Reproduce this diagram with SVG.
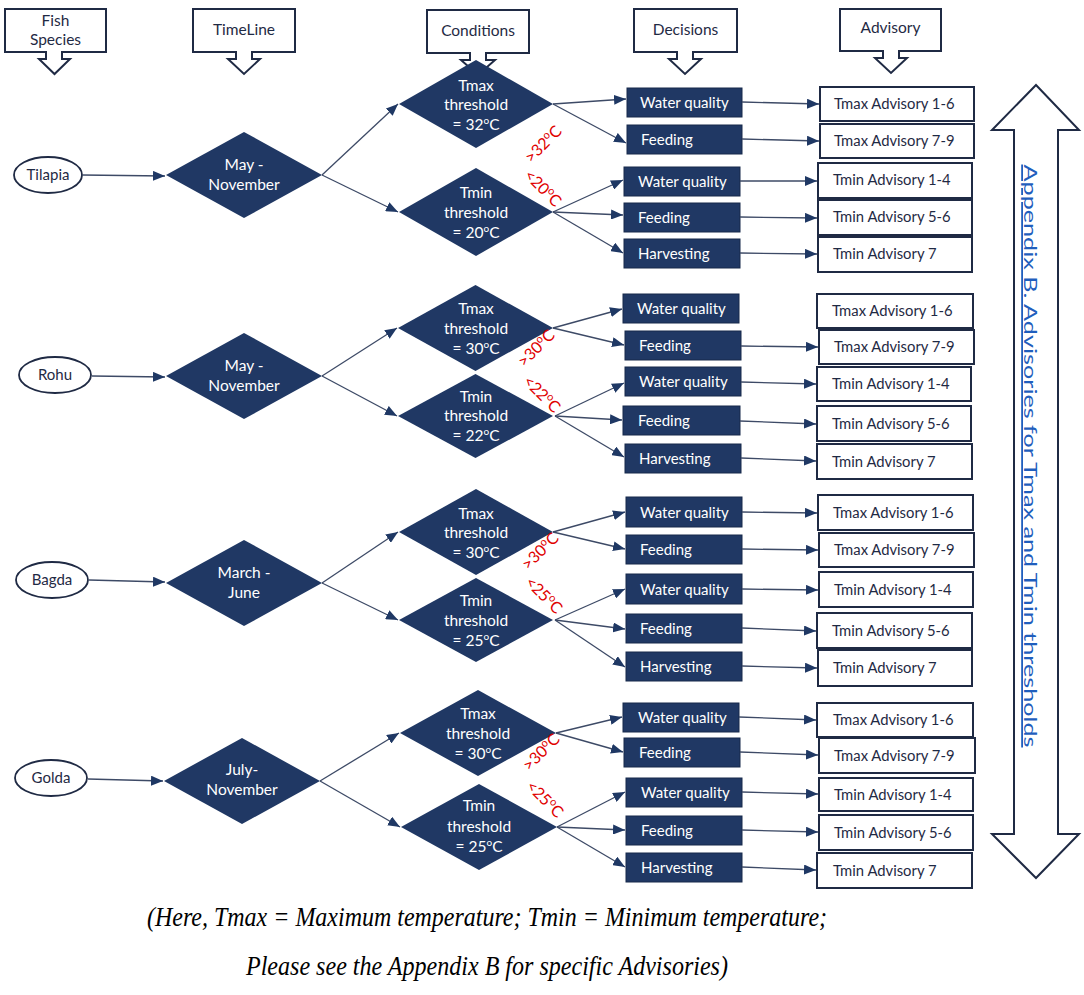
<svg xmlns="http://www.w3.org/2000/svg" width="1084" height="995" viewBox="0 0 1084 995">
<defs>
<marker id="ah" markerUnits="userSpaceOnUse" markerWidth="12" markerHeight="10" refX="12" refY="5" orient="auto">
<path d="M0,0 L12,5 L0,10 z" fill="#1f3864"/>
</marker>
<style>
.hdr{fill:#fff;stroke:#1f2a44;stroke-width:2}
.ht{font-family:Lato,"Liberation Sans",sans-serif;font-size:15.5px;fill:#1f2a44;text-anchor:middle}
.ell{fill:#fff;stroke:#1f2a44;stroke-width:1.8}
.et{font-family:Lato,"Liberation Sans",sans-serif;font-size:15px;fill:#1f2a44;text-anchor:middle}
.dia{fill:#203864}
.dt{font-family:Lato,"Liberation Sans",sans-serif;font-size:15.5px;fill:#fff;text-anchor:middle}
.dec{fill:#203864;stroke:#16284a;stroke-width:1}
.dct{font-family:Lato,"Liberation Sans",sans-serif;font-size:15px;fill:#fff}
.adv{fill:#fff;stroke:#1f2a44;stroke-width:2}
.at{font-family:Lato,"Liberation Sans",sans-serif;font-size:14.8px;fill:#1f2a44}
.red{font-family:Lato,"Liberation Sans",sans-serif;font-size:16px;fill:#e00000;text-anchor:middle}
.con line{stroke:#3d4a66;stroke-width:1.3;marker-end:url(#ah)}
.cap{font-family:"Liberation Serif",serif;font-style:italic;font-size:28px;fill:#000;text-anchor:middle}
</style>
</defs>
<rect width="1084" height="995" fill="#fff"/>

<!-- headers -->
<g id="hdr-fish"><path class="hdr" d="M5,9 H106 V52 H62 V59 H70 L54.5,74 L39,59 H46 V52 H5 Z"/><text class="ht" x="55.5" y="26">Fish</text><text class="ht" x="55.5" y="45">Species</text></g>
<g id="hdr-time"><path class="hdr" d="M193,9 H295 V52 H252 V59 H260 L244,74 L228,59 H236 V52 H193 Z"/><text class="ht" x="244" y="35">TimeLine</text></g>
<g id="hdr-cond"><path class="hdr" d="M427,10 H529 V53 H486 V60 H495 L478,75 L461,60 H470 V53 H427 Z"/><text class="ht" x="478" y="36">Conditions</text></g>
<g id="hdr-dec"><path class="hdr" d="M634,9 H737 V52 H693 V59 H701 L685,74 L669,59 H677 V52 H634 Z"/><text class="ht" x="685.5" y="35">Decisions</text></g>
<g id="hdr-adv"><path class="hdr" d="M840,9 H941 V51 H899 V58 H907 L891,73 L875,58 H883 V51 H840 Z"/><text class="ht" x="890.5" y="33">Advisory</text></g>

<!-- ===== Tilapia ===== -->
<g id="sp-tilapia"><ellipse class="ell" cx="48" cy="175" rx="34" ry="18"/><text class="et" x="48" y="180">Tilapia</text></g>
<g id="tl-tilapia"><path class="dia" d="M166,175 L244,132 L322,175 L244,218 Z"/><text class="dt" x="244" y="170">May -</text><text class="dt" x="244" y="190">November</text></g>
<g id="tmax-tilapia"><path class="dia" d="M399,104 L476,60 L553,104 L476,148 Z"/><text class="dt" x="476" y="91">Tmax</text><text class="dt" x="476" y="110">threshold</text><text class="dt" x="476" y="130">= 32<tspan font-size="10" dy="-6">o</tspan><tspan dy="6">C</tspan></text></g>
<g id="tmin-tilapia"><path class="dia" d="M399,212 L476,168 L553,212 L476,256 Z"/><text class="dt" x="476" y="198">Tmin</text><text class="dt" x="476" y="218">threshold</text><text class="dt" x="476" y="238">= 20<tspan font-size="10" dy="-6">o</tspan><tspan dy="6">C</tspan></text></g>
<g id="lbl-tilapia"><text class="red" transform="translate(547,148) rotate(-45)">&gt;32<tspan font-size="11" dy="-6">o</tspan><tspan dy="6">C</tspan></text><text class="red" transform="translate(539,192) rotate(45)">&lt;20<tspan font-size="11" dy="-6">o</tspan><tspan dy="6">C</tspan></text></g>
<g id="dec-tilapia-1"><rect class="dec" x="627" y="88" width="115" height="29"/><text class="dct" x="640" y="108">Water quality</text></g>
<g id="dec-tilapia-2"><rect class="dec" x="627" y="125" width="115" height="29"/><text class="dct" x="641" y="145">Feeding</text></g>
<g id="dec-tilapia-3"><rect class="dec" x="624" y="167" width="116" height="29"/><text class="dct" x="638" y="187">Water quality</text></g>
<g id="dec-tilapia-4"><rect class="dec" x="624" y="203" width="116" height="29"/><text class="dct" x="638" y="223">Feeding</text></g>
<g id="dec-tilapia-5"><rect class="dec" x="624" y="239" width="116" height="29"/><text class="dct" x="638" y="259">Harvesting</text></g>
<g id="adv-tilapia-1"><rect class="adv" x="820" y="87" width="154" height="34"/><text class="at" x="834" y="109">Tmax Advisory 1-6</text></g>
<g id="adv-tilapia-2"><rect class="adv" x="820" y="124" width="154" height="34"/><text class="at" x="834" y="146">Tmax Advisory 7-9</text></g>
<g id="adv-tilapia-3"><rect class="adv" x="818" y="163" width="154" height="35"/><text class="at" x="833" y="185">Tmin Advisory 1-4</text></g>
<g id="adv-tilapia-4"><rect class="adv" x="818" y="200" width="154" height="35"/><text class="at" x="833" y="222">Tmin Advisory 5-6</text></g>
<g id="adv-tilapia-5"><rect class="adv" x="818" y="237" width="154" height="35"/><text class="at" x="833" y="259">Tmin Advisory 7</text></g>

<!-- ===== Rohu ===== -->
<g id="sp-rohu"><ellipse class="ell" cx="55" cy="375" rx="36" ry="18"/><text class="et" x="55" y="380">Rohu</text></g>
<g id="tl-rohu"><path class="dia" d="M166,376 L244,333 L322,376 L244,419 Z"/><text class="dt" x="244" y="371">May -</text><text class="dt" x="244" y="391">November</text></g>
<g id="tmax-rohu"><path class="dia" d="M398,328 L475.5,285 L553,328 L475.5,371 Z"/><text class="dt" x="476" y="314">Tmax</text><text class="dt" x="476" y="334">threshold</text><text class="dt" x="476" y="354">= 30<tspan font-size="10" dy="-6">o</tspan><tspan dy="6">C</tspan></text></g>
<g id="tmin-rohu"><path class="dia" d="M398,416 L475.5,374 L553,416 L475.5,458 Z"/><text class="dt" x="476" y="402">Tmin</text><text class="dt" x="476" y="421">threshold</text><text class="dt" x="476" y="441">= 22<tspan font-size="10" dy="-6">o</tspan><tspan dy="6">C</tspan></text></g>
<g id="lbl-rohu"><text class="red" transform="translate(540,352) rotate(-45)">&gt;30<tspan font-size="11" dy="-6">o</tspan><tspan dy="6">C</tspan></text><text class="red" transform="translate(538,398) rotate(45)">&lt;22<tspan font-size="11" dy="-6">o</tspan><tspan dy="6">C</tspan></text></g>
<g id="dec-rohu-1"><rect class="dec" x="623" y="294" width="116" height="29"/><text class="dct" x="637" y="314">Water quality</text></g>
<g id="dec-rohu-2"><rect class="dec" x="625" y="331" width="116" height="29"/><text class="dct" x="639" y="351">Feeding</text></g>
<g id="dec-rohu-3"><rect class="dec" x="625" y="367" width="116" height="29"/><text class="dct" x="639" y="387">Water quality</text></g>
<g id="dec-rohu-4"><rect class="dec" x="623" y="406" width="117" height="29"/><text class="dct" x="638" y="426">Feeding</text></g>
<g id="dec-rohu-5"><rect class="dec" x="625" y="444" width="116" height="29"/><text class="dct" x="639" y="464">Harvesting</text></g>
<g id="adv-rohu-1"><rect class="adv" x="817" y="294" width="156" height="34"/><text class="at" x="832" y="316">Tmax Advisory 1-6</text></g>
<g id="adv-rohu-2"><rect class="adv" x="819" y="330" width="155" height="34"/><text class="at" x="834" y="352">Tmax Advisory 7-9</text></g>
<g id="adv-rohu-3"><rect class="adv" x="817" y="367" width="154" height="34"/><text class="at" x="832" y="389">Tmin Advisory 1-4</text></g>
<g id="adv-rohu-4"><rect class="adv" x="817" y="406" width="154" height="35"/><text class="at" x="832" y="429">Tmin Advisory 5-6</text></g>
<g id="adv-rohu-5"><rect class="adv" x="817" y="444" width="155" height="35"/><text class="at" x="832" y="467">Tmin Advisory 7</text></g>

<!-- ===== Bagda ===== -->
<g id="sp-bagda"><ellipse class="ell" cx="52" cy="580" rx="36" ry="18"/><text class="et" x="52" y="585">Bagda</text></g>
<g id="tl-bagda"><path class="dia" d="M166,583 L244,540 L322,583 L244,626 Z"/><text class="dt" x="244" y="578">March -</text><text class="dt" x="244" y="598">June</text></g>
<g id="tmax-bagda"><path class="dia" d="M399,532 L476,489 L553,532 L476,575 Z"/><text class="dt" x="476" y="519">Tmax</text><text class="dt" x="476" y="538">threshold</text><text class="dt" x="476" y="558">= 30<tspan font-size="10" dy="-6">o</tspan><tspan dy="6">C</tspan></text></g>
<g id="tmin-bagda"><path class="dia" d="M399,620 L476,578 L553,620 L476,662 Z"/><text class="dt" x="476" y="606">Tmin</text><text class="dt" x="476" y="626">threshold</text><text class="dt" x="476" y="646">= 25<tspan font-size="10" dy="-6">o</tspan><tspan dy="6">C</tspan></text></g>
<g id="lbl-bagda"><text class="red" transform="translate(544,555) rotate(-45)">&gt;30<tspan font-size="11" dy="-6">o</tspan><tspan dy="6">C</tspan></text><text class="red" transform="translate(540,599) rotate(45)">&lt;25<tspan font-size="11" dy="-6">o</tspan><tspan dy="6">C</tspan></text></g>
<g id="dec-bagda-1"><rect class="dec" x="626" y="497" width="116" height="30"/><text class="dct" x="640" y="518">Water quality</text></g>
<g id="dec-bagda-2"><rect class="dec" x="626" y="535" width="116" height="29"/><text class="dct" x="640" y="555">Feeding</text></g>
<g id="dec-bagda-3"><rect class="dec" x="626" y="574" width="116" height="30"/><text class="dct" x="640" y="595">Water quality</text></g>
<g id="dec-bagda-4"><rect class="dec" x="626" y="614" width="116" height="29"/><text class="dct" x="640" y="634">Feeding</text></g>
<g id="dec-bagda-5"><rect class="dec" x="626" y="652" width="116" height="29"/><text class="dct" x="640" y="672">Harvesting</text></g>
<g id="adv-bagda-1"><rect class="adv" x="818" y="495" width="155" height="35"/><text class="at" x="833" y="518">Tmax Advisory 1-6</text></g>
<g id="adv-bagda-2"><rect class="adv" x="819" y="533" width="155" height="34"/><text class="at" x="834" y="555">Tmax Advisory 7-9</text></g>
<g id="adv-bagda-3"><rect class="adv" x="819" y="572" width="154" height="35"/><text class="at" x="834" y="595">Tmin Advisory 1-4</text></g>
<g id="adv-bagda-4"><rect class="adv" x="817" y="613" width="155" height="35"/><text class="at" x="832" y="636">Tmin Advisory 5-6</text></g>
<g id="adv-bagda-5"><rect class="adv" x="818" y="650" width="154" height="36"/><text class="at" x="833" y="673">Tmin Advisory 7</text></g>

<!-- ===== Golda ===== -->
<g id="sp-golda"><ellipse class="ell" cx="51" cy="778" rx="36" ry="18"/><text class="et" x="51" y="783">Golda</text></g>
<g id="tl-golda"><path class="dia" d="M164,781 L242,738 L320,781 L242,824 Z"/><text class="dt" x="242" y="775">July-</text><text class="dt" x="242" y="795">November</text></g>
<g id="tmax-golda"><path class="dia" d="M400,733 L478,690 L556,733 L478,776 Z"/><text class="dt" x="478" y="719">Tmax</text><text class="dt" x="478" y="739">threshold</text><text class="dt" x="478" y="759">= 30<tspan font-size="10" dy="-6">o</tspan><tspan dy="6">C</tspan></text></g>
<g id="tmin-golda"><path class="dia" d="M401,827 L479,784 L557,827 L479,870 Z"/><text class="dt" x="479" y="811">Tmin</text><text class="dt" x="479" y="832">threshold</text><text class="dt" x="479" y="852">= 25<tspan font-size="10" dy="-6">o</tspan><tspan dy="6">C</tspan></text></g>
<g id="lbl-golda"><text class="red" transform="translate(545,756) rotate(-45)">&gt;30<tspan font-size="11" dy="-6">o</tspan><tspan dy="6">C</tspan></text><text class="red" transform="translate(541,803) rotate(45)">&lt;25<tspan font-size="11" dy="-6">o</tspan><tspan dy="6">C</tspan></text></g>
<g id="dec-golda-1"><rect class="dec" x="623" y="703" width="116" height="29"/><text class="dct" x="638" y="723">Water quality</text></g>
<g id="dec-golda-2"><rect class="dec" x="624" y="738" width="116" height="29"/><text class="dct" x="639" y="758">Feeding</text></g>
<g id="dec-golda-3"><rect class="dec" x="626" y="778" width="116" height="29"/><text class="dct" x="641" y="798">Water quality</text></g>
<g id="dec-golda-4"><rect class="dec" x="626" y="816" width="116" height="29"/><text class="dct" x="641" y="836">Feeding</text></g>
<g id="dec-golda-5"><rect class="dec" x="626" y="853" width="116" height="29"/><text class="dct" x="641" y="873">Harvesting</text></g>
<g id="adv-golda-1"><rect class="adv" x="817" y="703" width="156" height="34"/><text class="at" x="833" y="725">Tmax Advisory 1-6</text></g>
<g id="adv-golda-2"><rect class="adv" x="819" y="738" width="156" height="35"/><text class="at" x="834" y="761">Tmax Advisory 7-9</text></g>
<g id="adv-golda-3"><rect class="adv" x="819" y="778" width="154" height="33"/><text class="at" x="834" y="800">Tmin Advisory 1-4</text></g>
<g id="adv-golda-4"><rect class="adv" x="819" y="815" width="154" height="35"/><text class="at" x="834" y="838">Tmin Advisory 5-6</text></g>
<g id="adv-golda-5"><rect class="adv" x="817" y="853" width="155" height="35"/><text class="at" x="833" y="876">Tmin Advisory 7</text></g>

<!-- connectors -->
<g id="connectors" class="con">
<!-- Tilapia -->
<line x1="82" y1="175" x2="165" y2="176"/>
<line x1="322" y1="175" x2="398" y2="104"/>
<line x1="322" y1="175" x2="398" y2="212"/>
<line x1="553" y1="104" x2="626" y2="99"/>
<line x1="553" y1="104" x2="626" y2="143"/>
<line x1="553" y1="212" x2="623" y2="180"/>
<line x1="553" y1="212" x2="623" y2="215"/>
<line x1="553" y1="212" x2="623" y2="253"/>
<line x1="742" y1="102" x2="819" y2="104"/>
<line x1="742" y1="139" x2="819" y2="141"/>
<line x1="740" y1="181" x2="817" y2="181"/>
<line x1="740" y1="217" x2="817" y2="218"/>
<line x1="740" y1="253" x2="817" y2="254"/>
<!-- Rohu -->
<line x1="92" y1="376" x2="165" y2="377"/>
<line x1="322" y1="376" x2="397" y2="328"/>
<line x1="322" y1="376" x2="397" y2="416"/>
<line x1="553" y1="328" x2="622" y2="309"/>
<line x1="553" y1="328" x2="624" y2="345"/>
<line x1="555" y1="416" x2="624" y2="383"/>
<line x1="555" y1="416" x2="622" y2="420"/>
<line x1="555" y1="416" x2="624" y2="457"/>
<line x1="741" y1="346" x2="818" y2="347"/>
<line x1="741" y1="382" x2="816" y2="384"/>
<line x1="740" y1="421" x2="816" y2="424"/>
<line x1="741" y1="458" x2="816" y2="461"/>
<!-- Bagda -->
<line x1="89" y1="580" x2="165" y2="582"/>
<line x1="322" y1="583" x2="398" y2="532"/>
<line x1="322" y1="583" x2="398" y2="620"/>
<line x1="553" y1="532" x2="625" y2="512"/>
<line x1="553" y1="532" x2="625" y2="549"/>
<line x1="555" y1="620" x2="625" y2="589"/>
<line x1="555" y1="620" x2="625" y2="629"/>
<line x1="555" y1="620" x2="625" y2="667"/>
<line x1="742" y1="512" x2="817" y2="513"/>
<line x1="742" y1="549" x2="818" y2="550"/>
<line x1="742" y1="589" x2="818" y2="590"/>
<line x1="742" y1="628" x2="816" y2="631"/>
<line x1="742" y1="666" x2="817" y2="668"/>
<!-- Golda -->
<line x1="88" y1="779" x2="163" y2="781"/>
<line x1="320" y1="781" x2="399" y2="733"/>
<line x1="320" y1="781" x2="400" y2="827"/>
<line x1="556" y1="733" x2="622" y2="717"/>
<line x1="556" y1="733" x2="623" y2="752"/>
<line x1="557" y1="827" x2="625" y2="792"/>
<line x1="557" y1="827" x2="625" y2="830"/>
<line x1="557" y1="827" x2="625" y2="867"/>
<line x1="739" y1="717" x2="816" y2="720"/>
<line x1="740" y1="752" x2="818" y2="755"/>
<line x1="742" y1="792" x2="818" y2="794"/>
<line x1="742" y1="830" x2="818" y2="832"/>
<line x1="742" y1="867" x2="816" y2="870"/>
</g>

<!-- right double arrow -->
<g id="appendix-arrow">
<path d="M1036,85 L1079,130 H1058 V834 H1079 L1036,878 L992,834 H1014 V130 H992 Z" fill="#fff" stroke="#1f2a44" stroke-width="2"/>
<text transform="translate(1024,456) rotate(90)" font-family="Lato,'Liberation Sans',sans-serif" font-size="18" fill="#1f5ebd" text-anchor="middle" text-decoration="underline" textLength="583" lengthAdjust="spacingAndGlyphs">Appendix B. Advisories for Tmax and Tmin thresholds</text>
</g>

<!-- caption -->
<g id="caption">
<text class="cap" x="487" y="926" textLength="680" lengthAdjust="spacingAndGlyphs">(Here, Tmax = Maximum temperature; Tmin = Minimum temperature;</text>
<text class="cap" x="487" y="975" textLength="482" lengthAdjust="spacingAndGlyphs">Please see the Appendix B for specific Advisories)</text>
</g>
</svg>
